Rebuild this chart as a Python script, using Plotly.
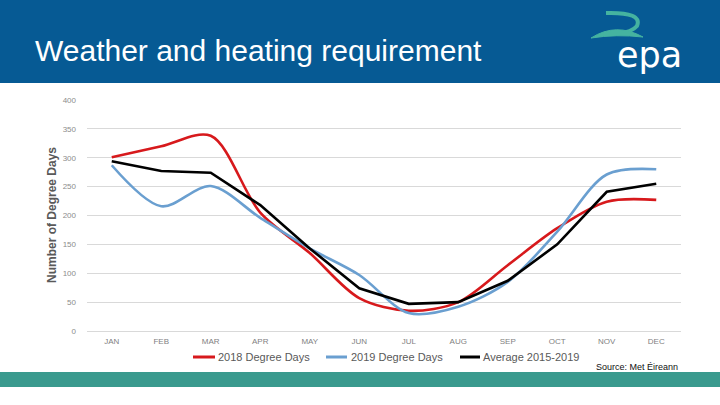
import plotly.graph_objects as go

months = ["JAN", "FEB", "MAR", "APR", "MAY", "JUN", "JUL", "AUG", "SEP", "OCT", "NOV", "DEC"]
dd_2018 = [301, 320, 338, 205, 135, 57, 35, 50, 114, 178, 224, 227]
dd_2019 = [287, 216, 251, 196, 143, 97, 31, 42, 85, 172, 271, 280]
dd_avg = [294, 277, 274, 218, 143, 74, 47, 50, 87, 150, 241, 255]
series_names = ["2018 Degree Days", "2019 Degree Days", "Average 2015-2019"]
y_ticks = [0, 50, 100, 150, 200, 250, 300, 350, 400]

W, H = 720, 405
L, R, T, B = 87, 681, 100, 331


def px(x):
    return (x - L) / (R - L)


def py(y):
    return (B - y) / (B - T)


colors = ["#d7191c", "#6a9fd0", "#000000"]
fig = go.Figure()
fig.add_trace(go.Scatter(x=months, y=dd_2018, mode="lines", name=series_names[0],
                         line=dict(color=colors[0], width=2.6, shape="spline", smoothing=0.9)))
fig.add_trace(go.Scatter(x=months, y=dd_2019, mode="lines", name=series_names[1],
                         line=dict(color=colors[1], width=2.6, shape="spline", smoothing=0.9)))
fig.add_trace(go.Scatter(x=months, y=dd_avg, mode="lines", name=series_names[2],
                         line=dict(color=colors[2], width=2.6)))

shapes = []
annotations = []

# header band
shapes.append(dict(type="rect", xref="paper", yref="paper", x0=px(0), x1=px(720), y0=py(83), y1=py(0),
                   fillcolor="#065a94", line=dict(width=0), layer="below"))
# bottom teal band
shapes.append(dict(type="rect", xref="paper", yref="paper", x0=px(0), x1=px(720), y0=py(387), y1=py(372),
                   fillcolor="#3a9a8e", line=dict(width=0), layer="below"))

# logo swoosh
hook = "M {},{} Q {},{} {},{} Q {},{} {},{}".format(
    px(606), py(13), px(643), py(12), px(637), py(26), px(629), py(35), px(611), py(32))
shapes.append(dict(type="path", xref="paper", yref="paper", path=hook,
                   line=dict(color="#45b3a0", width=4)))
leaf = "M {},{} Q {},{} {},{} Q {},{} {},{} Z".format(
    px(591), py(38), px(616), py(22), px(643), py(37), px(616), py(34), px(591), py(38))
shapes.append(dict(type="path", xref="paper", yref="paper", path=leaf,
                   fillcolor="#45b3a0", line=dict(color="#45b3a0", width=1)))

# title
annotations.append(dict(text="Weather and heating requirement", xref="paper", yref="paper",
                        x=px(33), y=py(51), xanchor="left", yanchor="middle", showarrow=False,
                        font=dict(family="Liberation Sans, Arial", size=30, color="white")))
# logo text
annotations.append(dict(text="epa", xref="paper", yref="paper",
                        x=px(649), y=py(55), xanchor="center", yanchor="middle", showarrow=False,
                        font=dict(family="DejaVu Sans", size=35, color="white")))

# y axis title
annotations.append(dict(text="<b>Number of Degree Days</b>", xref="paper", yref="paper",
                        x=px(52), y=py(215), xanchor="center", yanchor="middle", textangle=-90,
                        showarrow=False,
                        font=dict(family="Liberation Sans, Arial", size=12, color="#595959")))

# legend (manual)
leg = [(193, 215, 216), (326, 347, 349), (460, 480, 481)]
for (x0, x1, xt), name, c in zip(leg, series_names, colors):
    shapes.append(dict(type="line", xref="paper", yref="paper", x0=px(x0), x1=px(x1),
                       y0=py(357), y1=py(357), line=dict(color=c, width=3)))
    annotations.append(dict(text=name, xref="paper", yref="paper", x=px(xt), y=py(357),
                            xanchor="left", yanchor="middle", showarrow=False,
                            font=dict(family="Liberation Sans, Arial", size=11, color="#595959")))

# source
annotations.append(dict(text="Source: Met Éireann", xref="paper", yref="paper",
                        x=px(594), y=py(367), xanchor="left", yanchor="middle", showarrow=False,
                        font=dict(family="Liberation Sans, Arial", size=9, color="#111111")))

fig.update_layout(
    width=W, height=H,
    margin=dict(l=L, r=W - R, t=T, b=H - B, pad=0),
    paper_bgcolor="white", plot_bgcolor="white",
    showlegend=False,
    shapes=shapes, annotations=annotations,
    xaxis=dict(type="category", range=[-0.5, 11.5], showgrid=False, showline=False, zeroline=False,
               ticks="", tickfont=dict(family="Liberation Sans, Arial", size=8, color="#7f7f7f"),
               ticklabelstandoff=4),
    yaxis=dict(range=[0, 400], tickvals=y_ticks, showgrid=True, gridcolor="#d9d9d9", gridwidth=1,
               zeroline=True, zerolinecolor="#d9d9d9", zerolinewidth=1, showline=False, ticks="",
               tickfont=dict(family="Liberation Sans, Arial", size=8, color="#8c8c8c"),
               ticklabelstandoff=10),
)

fig.write_html("out.html", config={"displayModeBar": False},
               post_script="document.body.style.margin='0';document.body.style.overflow='hidden';")
